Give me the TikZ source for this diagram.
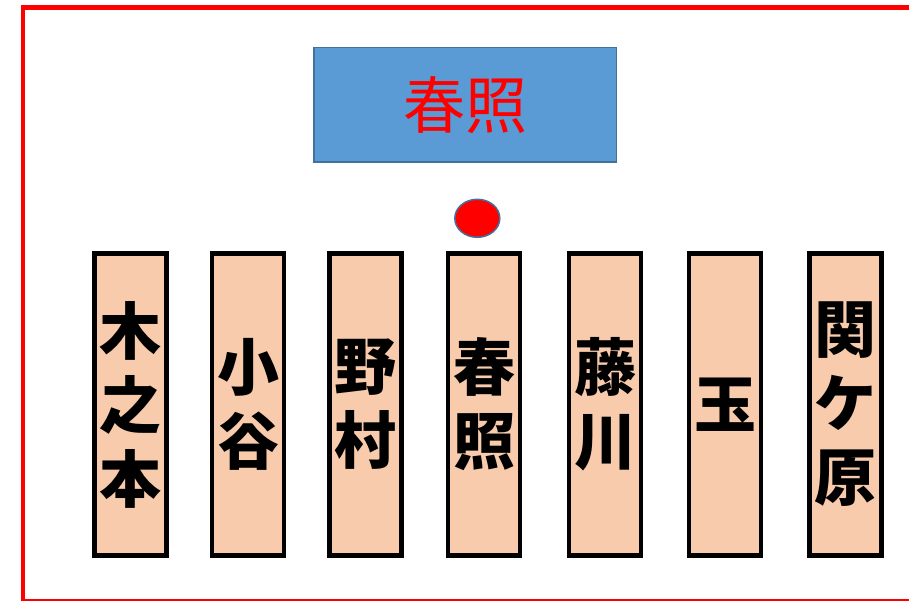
\documentclass[tikz,border=0pt]{standalone}
\usepackage{fontspec}
\newfontfamily\cjk{Noto Sans CJK JP}
\usepackage{tikz}
\usetikzlibrary{shapes.geometric}
\definecolor{peach}{HTML}{F8CBAD}
\definecolor{boxblue}{HTML}{5B9BD5}
\definecolor{edgeblue}{HTML}{41719C}

\begin{document}
\begin{tikzpicture}[x=1pt,y=-1pt, % one unit per pixel, downwards
	every node/.style={inner sep=0pt},
	station/.style={draw=black,line width=4.7pt,fill=peach,
		minimum width=72pt,minimum height=302pt,align=center,
		font=\cjk\bfseries\fontsize{62}{74}\selectfont},
	titlebox/.style={draw=edgeblue,line width=1.5pt,fill=boxblue,text=red,
		minimum width=302.5pt,minimum height=114.5pt,
		font=\cjk\fontsize{62}{74}\selectfont},
	marker/.style={ellipse,draw=edgeblue,line width=1.5pt,fill=red,
		minimum width=45pt,minimum height=38pt}]
	\clip (0,0) rectangle (909,601);
	\fill[white] (0,0) rectangle (909,601);
	\draw[red,line width=4.5pt] (23,7.7) rectangle (920,601.5);

	\node[titlebox] (title) at (465.3,104.7) {春照};
	\node[marker] (dot) at (477.3,218.3) {};

	\foreach \x/\n/\t in {130.8/c1/{木\\之\\本},248/c2/{小\\谷},365.8/c3/{野\\村},
		484/c4/{春\\照},605/c5/{藤\\川},725/c6/{玉},845.5/c7/{関\\ケ\\原}}
		\node[station] (\n) at (\x,404.5) {\t};

\end{tikzpicture}
\end{document}
